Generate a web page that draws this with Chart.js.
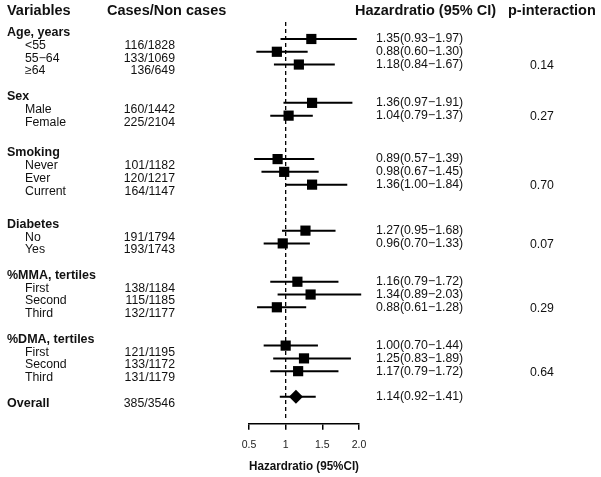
<!DOCTYPE html>
<html>
<head>
<meta charset="utf-8">
<script src="https://cdn.jsdelivr.net/npm/chart.js@4/dist/chart.umd.min.js"></script>
<style>
  body { margin: 0; background: #fff; }
  canvas { display: block; }
</style>
</head>
<body>
<canvas id="forest" width="601" height="477"></canvas>
<script>
// groups and subgroups
let groups = ['Age, years', 'Sex', 'Smoking', 'Diabetes', '%MMA, tertiles', '%DMA, tertiles']
let groupSize = [3, 2, 3, 2, 3, 3]
let pValues = ['0.14', '0.27', '0.70', '0.07', '0.29', '0.64']

let labels = ['<55', '55\u221264', '\u226564', 'Male', 'Female', 'Never', 'Ever', 'Current',
  'No', 'Yes', 'First', 'Second', 'Third', 'First', 'Second', 'Third']
let cases = ['116/1828', '133/1069', '136/649', '160/1442', '225/2104', '101/1182', '120/1217',
  '164/1147', '191/1794', '193/1743', '138/1184', '115/1185', '132/1177', '121/1195',
  '133/1172', '131/1179']
let hr = [1.35, 0.88, 1.18, 1.36, 1.04, 0.89, 0.98, 1.36, 1.27, 0.96, 1.16, 1.34, 0.88, 1.00, 1.25, 1.17]
let lower = [0.93, 0.60, 0.84, 0.97, 0.79, 0.57, 0.67, 1.00, 0.95, 0.70, 0.79, 0.89, 0.61, 0.70, 0.83, 0.79]
let upper = [1.97, 1.30, 1.67, 1.91, 1.37, 1.39, 1.45, 1.84, 1.68, 1.33, 1.72, 2.03, 1.28, 1.44, 1.89, 1.72]
// row of each subgroup (top = 0)
let rows = [0, 1, 2, 5, 6, 9.4, 10.4, 11.4, 15, 16, 19, 20, 21, 24, 25, 26]

let overallCases = '385/3546'
let overallHr = 1.14
let overallLower = 0.92
let overallUpper = 1.41
let overallRow = 28

let tickVals = [0.5, 1, 1.5, 2.0]
let tickLabels = ['0.5', '1', '1.5', '2.0']

function fmt(v) { return v.toFixed(2) }

let ciData = []
for (let i in hr) {
  ciData.push({x: lower[i], y: rows[i]}, {x: upper[i], y: rows[i]}, {x: null, y: null})
}
ciData.push({x: overallLower, y: overallRow}, {x: overallUpper, y: overallRow})

let boxData = hr.map((v, i) => ({x: v, y: rows[i]}))

const FONT = '"Liberation Sans", Arial, sans-serif'

const tablePlugin = {
  id: 'table',
  afterDraw(chart) {
    const c = chart.ctx
    const ys = chart.scales.y
    const off = 6.5
    c.save()
    c.fillStyle = '#111'
    c.textBaseline = 'middle'
    c.font = 'bold 14.5px ' + FONT
    c.textAlign = 'left'
    c.fillText('Variables', 7, 11)
    c.fillText('Cases/Non cases', 107, 11)
    c.fillText('Hazardratio (95% CI)', 355, 11)
    c.fillText('p-interaction', 508, 11)

    let k = 0
    for (let g = 0; g < groups.length; g++) {
      let first = rows[k]
      c.font = 'bold 12.5px ' + FONT
      c.textAlign = 'left'
      c.fillText(groups[g], 7, ys.getPixelForValue(first - 1) + off)
      for (let j = 0; j < groupSize[g]; j++, k++) {
        let py = ys.getPixelForValue(rows[k])
        c.font = '12.3px ' + FONT
        c.textAlign = 'left'
        c.fillText(labels[k], 25, py + off)
        c.textAlign = 'right'
        c.fillText(cases[k], 175, py + off)
        c.textAlign = 'left'
        c.fillText(fmt(hr[k]) + '(' + fmt(lower[k]) + '\u2212' + fmt(upper[k]) + ')', 376, py)
        if (j === groupSize[g] - 1) c.fillText(pValues[g], 530, py + 1)
      }
    }
    let oy = ys.getPixelForValue(overallRow)
    c.font = 'bold 12.5px ' + FONT
    c.fillText('Overall', 7, oy + off)
    c.font = '12.3px ' + FONT
    c.textAlign = 'right'
    c.fillText(overallCases, 175, oy + off)
    c.textAlign = 'left'
    c.fillText(fmt(overallHr) + '(' + fmt(overallLower) + '\u2212' + fmt(overallUpper) + ')', 376, oy)
    c.restore()
  }
}

new Chart(document.getElementById('forest'), {
  type: 'scatter',
  data: {
    datasets: [
      {
        data: boxData,
        pointStyle: 'rect',
        pointRadius: 7.2,
        backgroundColor: '#000',
        borderColor: '#000',
        borderWidth: 0,
        clip: false
      },
      {
        data: [{x: overallHr, y: overallRow}],
        pointStyle: 'rectRot',
        pointRadius: 7,
        backgroundColor: '#000',
        borderColor: '#000',
        borderWidth: 0,
        clip: false
      },
      {
        data: ciData,
        showLine: true,
        spanGaps: false,
        borderColor: '#000',
        borderWidth: 2,
        pointRadius: 0,
        clip: false
      },
      {
        data: [{x: 1, y: -1.33}, {x: 1, y: 29.7}],
        showLine: true,
        borderColor: '#000',
        borderWidth: 1.3,
        borderDash: [4, 3],
        pointRadius: 0,
        clip: false
      }
    ]
  },
  options: {
    responsive: false,
    animation: false,
    layout: { padding: { left: 249, right: 242, top: 22, bottom: 3 } },
    plugins: { legend: { display: false }, tooltip: { enabled: false } },
    scales: {
      x: {
        type: 'linear',
        min: 0.5,
        max: 2.0,
        afterBuildTicks: (scale) => { scale.ticks = tickVals.map(v => ({value: v})) },
        ticks: {
          callback: (v, i) => tickLabels[i],
          color: '#222',
          font: { family: FONT, size: 10.5 },
          padding: 9,
          maxRotation: 0
        },
        grid: { drawOnChartArea: false, drawTicks: true, tickLength: 6, color: '#000', lineWidth: 1.5 },
        border: { display: true, color: '#000', width: 1.5 },
        title: {
          display: true,
          text: 'Hazardratio (95%CI)',
          color: '#111',
          font: { family: FONT, size: 13, weight: 'bold' },
          padding: { top: -2, bottom: 0 }
        }
      },
      y: {
        type: 'linear',
        display: false,
        reverse: true,
        min: -1.33,
        max: 30.12
      }
    }
  },
  plugins: [tablePlugin]
})
</script>
</body>
</html>
